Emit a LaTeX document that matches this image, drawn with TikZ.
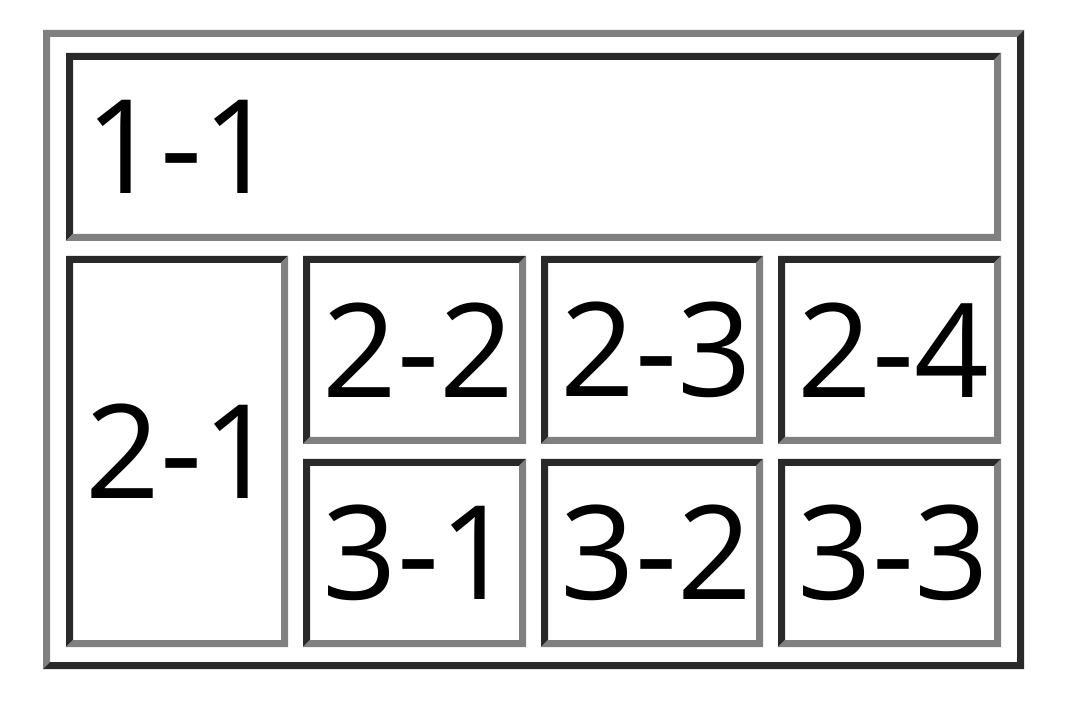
\documentclass[tikz,border=0pt]{standalone}
\usepackage{fontspec}
\setmainfont{Open Sans}
\usetikzlibrary{positioning}

\colorlet{darkedge}{black!84}
\colorlet{lightedge}{black!50}
\tikzset{
  celltext/.style={anchor=west, inner sep=0pt, font=\fontsize{98}{100}\selectfont},
}

\begin{document}
\begin{tikzpicture}[x=0.75pt,y=-0.75pt]
  \useasboundingbox (0,0) rectangle (1076,709);

  % Table frame (raised)
  \fill[lightedge] (43,669) -- (43,30) -- (1024,30) -- (1017,37) -- (50,37) -- (50,662) -- cycle;
  \fill[darkedge] (1024,30) -- (1024,669) -- (43,669) -- (50,662) -- (1017,662) -- (1017,37) -- cycle;

  % Cells (sunken)
  \foreach \n/\xa/\ya/\xb/\yb/\lbl in {c11/66/53/1001/241/1-1, c21/66/256/288/647/2-1,
      c22/303/256/526/444/2-2, c23/541/256/763/444/2-3, c24/778/256/1001/444/2-4,
      c31/303/459/526/647/3-1, c32/541/459/763/647/3-2, c33/778/459/1001/647/3-3}{
    \fill[darkedge] (\xa,\yb) -- (\xa,\ya) -- (\xb,\ya) -- (\xb-7,\ya+7) -- (\xa+7,\ya+7) -- (\xa+7,\yb-7) -- cycle;
    \fill[lightedge] (\xb,\ya) -- (\xb,\yb) -- (\xa,\yb) -- (\xa+7,\yb-7) -- (\xb-7,\yb-7) -- (\xb-7,\ya+7) -- cycle;
    \node[celltext] (\n) at (\xa+19,{(\ya+\yb)/2}) {\lbl};
  }
\end{tikzpicture}
\end{document}
